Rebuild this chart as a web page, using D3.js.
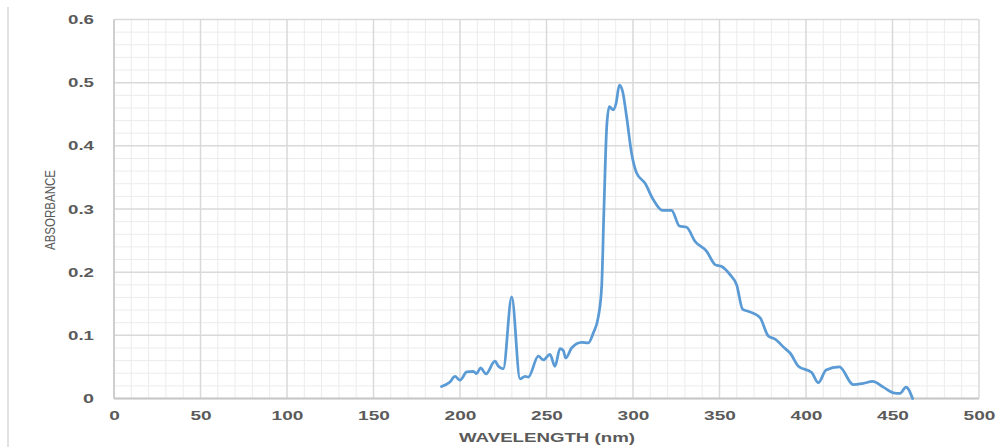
<!DOCTYPE html>
<html><head><meta charset="utf-8">
<script src="https://cdn.jsdelivr.net/npm/d3@7/dist/d3.min.js"></script>
<style>html,body{margin:0;padding:0;background:#fff;}svg{display:block;}</style>
</head><body>
<script>
const wavelength = [189.3,194.2,197.1,200,203.9,207.7,209.6,211.9,215,220.2,222.2,225,229.9,234.7,237.6,239.5,245.3,248.2,252,254.9,257.8,259.7,261.1,264.5,270.3,274.2,277.1,280,281.9,283.2,284.8,286.3,288.6,290.2,292.1,294,296.3,299.2,302.1,306.9,311.7,317,322.3,326.8,331,335.8,342.6,347.4,351.3,356.1,359.9,363.4,366.6,373.4,378.2,382.1,387.9,390.8,395.6,403.3,407.1,411.6,419.3,427.3,433.1,438.5,444.7,450.5,454.3,457.8,461.6];
const absorbance = [0.019,0.026,0.035,0.029,0.042,0.043,0.0395,0.0485,0.039,0.059,0.051,0.047,0.161,0.031,0.035,0.034,0.067,0.061,0.07,0.051,0.079,0.076,0.064,0.08,0.089,0.088,0.104,0.13,0.178,0.299,0.43,0.462,0.457,0.467,0.496,0.486,0.446,0.388,0.357,0.341,0.315,0.298,0.298,0.273,0.271,0.249,0.233,0.212,0.209,0.196,0.18,0.141,0.138,0.128,0.099,0.094,0.079,0.072,0.051,0.041,0.025,0.045,0.05,0.022,0.024,0.027,0.018,0.009,0.008,0.018,0.0];
const xTicks = [0,50,100,150,200,250,300,350,400,450,500];
const yTicks = [0,0.1,0.2,0.3,0.4,0.5,0.6];
const xTitle = "WAVELENGTH (nm)";
const yTitle = "ABSORBANCE";

const W = 1007, H = 447;
const svg = d3.select("body").append("svg").attr("width", W).attr("height", H);
const x = d3.scaleLinear().domain([0, 500]).range([114, 979]);
const y = d3.scaleLinear().domain([0, 0.6]).range([398.5, 19.5]);

// outer left border line
svg.append("line").attr("x1", 8).attr("x2", 8).attr("y1", 7).attr("y2", H)
  .attr("stroke", "#d9d9d9").attr("stroke-width", 1.5);

// minor grid
const xMinor = d3.range(0, 501, 10).filter(v => v % 50 !== 0);
const yMinor = d3.range(0, 31).map(i => i * 0.02).filter((v, i) => i % 5 !== 0);
const g = svg.append("g");
g.selectAll(".xm").data(xMinor).join("line")
  .attr("x1", d => x(d)).attr("x2", d => x(d)).attr("y1", y(0.6)).attr("y2", y(0))
  .attr("stroke", "#ececec").attr("stroke-width", 1);
g.selectAll(".ym").data(yMinor).join("line")
  .attr("x1", x(0)).attr("x2", x(500)).attr("y1", d => y(d)).attr("y2", d => y(d))
  .attr("stroke", "#ececec").attr("stroke-width", 1);
// major grid
g.selectAll(".xM").data(xTicks).join("line")
  .attr("x1", d => x(d)).attr("x2", d => x(d)).attr("y1", y(0.6)).attr("y2", y(0))
  .attr("stroke", "#d9d9d9").attr("stroke-width", 1.5);
g.selectAll(".yM").data(yTicks).join("line")
  .attr("x1", x(0)).attr("x2", x(500)).attr("y1", d => y(d)).attr("y2", d => y(d))
  .attr("stroke", "#d9d9d9").attr("stroke-width", 1.5);
// axis lines
svg.append("line").attr("x1", x(0)).attr("x2", x(500)).attr("y1", y(0)).attr("y2", y(0))
  .attr("stroke", "#c8c8c8").attr("stroke-width", 2);
svg.append("line").attr("x1", x(0)).attr("x2", x(0)).attr("y1", y(0.6)).attr("y2", y(0))
  .attr("stroke", "#c8c8c8").attr("stroke-width", 1.5);

// axes via d3 (labels only)
const fontFam = "'Liberation Sans', Arial, sans-serif";
const xAxis = svg.append("g").attr("transform", `translate(0,${y(0)})`)
  .call(d3.axisBottom(x).tickValues(xTicks).tickSize(0).tickPadding(13).tickFormat(d3.format("d")));
xAxis.select(".domain").remove();
xAxis.selectAll("text").attr("font-family", fontFam).attr("font-weight", "bold")
  .attr("font-size", 12.5).attr("fill", "#5a5a5a")
  .attr("textLength", d => String(d).length * 10.6).attr("lengthAdjust", "spacingAndGlyphs");

const yAxis = svg.append("g").attr("transform", `translate(${x(0)},0)`)
  .call(d3.axisLeft(y).tickValues(yTicks).tickSize(0).tickPadding(20).tickFormat(d => d === 0 ? "0" : d3.format(".1f")(d)));
yAxis.select(".domain").remove();
yAxis.selectAll("text").attr("font-family", fontFam).attr("font-weight", "bold")
  .attr("font-size", 12.5).attr("fill", "#5a5a5a")
  .attr("textLength", d => d === 0 ? 11 : 26).attr("lengthAdjust", "spacingAndGlyphs");

// titles
svg.append("text").attr("x", 547).attr("y", 442).attr("text-anchor", "middle")
  .attr("font-family", fontFam).attr("font-weight", "bold").attr("font-size", 13.5)
  .attr("fill", "#5a5a5a").attr("textLength", 176).attr("lengthAdjust", "spacingAndGlyphs")
  .text(xTitle);
svg.append("text").attr("transform", "translate(55,210) rotate(-90)").attr("text-anchor", "middle")
  .attr("font-family", fontFam).attr("font-size", 14.5)
  .attr("fill", "#5a5a5a").attr("textLength", 80).attr("lengthAdjust", "spacingAndGlyphs")
  .text(yTitle);

// line
const pts = wavelength.map((w, i) => [w, absorbance[i]]);
const line = d3.line().x(d => x(d[0])).y(d => y(d[1])).curve(d3.curveMonotoneX);
svg.append("path").datum(pts).attr("d", line).attr("fill", "none")
  .attr("stroke", "#5b9bd5").attr("stroke-width", 2.75).attr("stroke-linejoin", "round").attr("stroke-linecap", "round");
</script>
</body></html>
